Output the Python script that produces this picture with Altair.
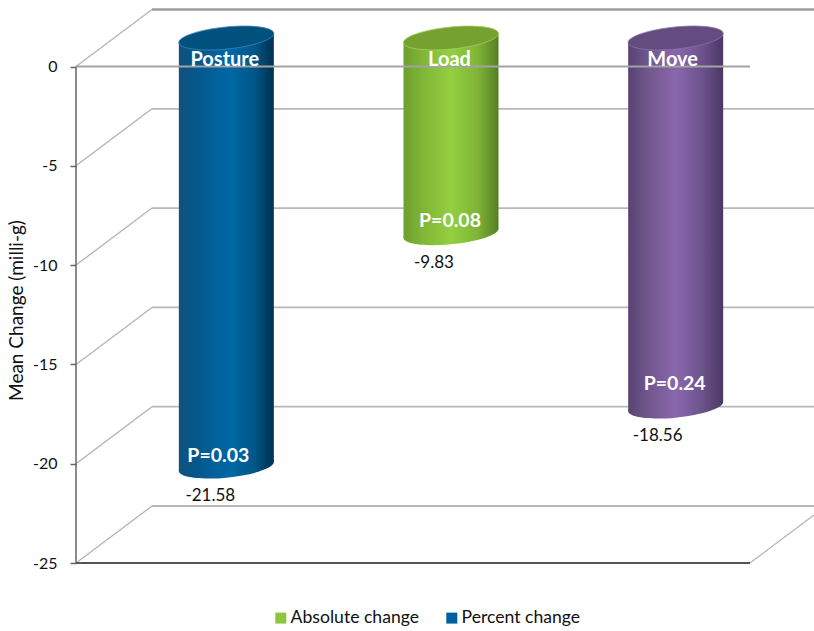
import altair as alt
import pandas as pd

# Measured results
movements = ["Posture", "Load", "Move"]
mean_change = [-21.58, -9.83, -18.56]
p_values = ["P=0.03", "P=0.08", "P=0.24"]
axis_ticks = [0, -5, -10, -15, -20, -25]
legend_entries = ["Absolute change", "Percent change"]
legend_colors = ["#8dc63f", "#005f9e"]

FONT = "Lato"
PX_PER_SLOT = 224.67
PX_PER_UNIT = 19.86
DEPTH_X = 76 / PX_PER_SLOT   # how far the back wall shifts right, in category slots
DEPTH_Y = 57 / PX_PER_UNIT   # how far the back wall shifts up, in axis units
HALF_W = 47.5 / PX_PER_SLOT  # cylinder half width
TILT = 4.5 / PX_PER_UNIT     # rise of an end cap from its centre to its right edge
CAP_SIZE = 95 ** 2           # symbol area giving a cap as wide as its cylinder

x_scale = alt.Scale(domain=[0, 738 / PX_PER_SLOT], nice=False, zero=False)
y_scale = alt.Scale(domain=[-25, 61.5 / PX_PER_UNIT], nice=False, zero=False)

# Every layer shares this one value axis
value_axis_def = alt.Axis(
    title="Mean Change (milli-g)",
    titleFont=FONT,
    titleFontSize=19,
    titleFontWeight="normal",
    titleColor="#111111",
    titleX=-50,
    titleY=305,
    titleAngle=-90,
    values=axis_ticks,
    labelExpr="'' + datum.value",
    labelFont=FONT,
    labelFontSize=16,
    labelColor="#111111",
    labelPadding=13,
    tickColor="#666666",
    tickSize=6,
    tickWidth=1.5,
    domain=False,
    grid=False,
)
x_enc = alt.X("x:Q", scale=x_scale, axis=None)
y_enc = alt.Y("y:Q", scale=y_scale, axis=value_axis_def)


def ellipse_path(k=0.233, s=-0.095):
    """Sheared ellipse spanning x in [-1, 1], as four cubic segments."""
    c = 0.5523
    pts = [(1, 0), (1, c), (c, 1), (0, 1), (-c, 1), (-1, c), (-1, 0),
           (-1, -c), (-c, -1), (0, -1), (c, -1), (1, -c), (1, 0)]
    mapped = [(u, k * v + s * u) for u, v in pts]
    text = [f"{u:.4f},{v:.4f}" for u, v in mapped]
    path = "M" + text[0]
    for i in range(1, len(text), 3):
        path += "C" + " ".join(text[i:i + 3])
    return path + "Z"


def side_gradient(stops):
    return alt.LinearGradient(
        gradient="linear", x1=0, x2=1, y1=0, y2=0,
        stops=[alt.GradientStop(offset=o, color=col) for o, col in stops],
    )


def rules(df, color, width):
    return alt.Chart(df).mark_rule(color=color, strokeWidth=width).encode(
        x=x_enc, x2="x2:Q", y=y_enc, y2="y2:Q"
    )


x_end = 738 / PX_PER_SLOT

# Back wall, left wall and floor of the box
back_lines = pd.DataFrame(
    [{"x": DEPTH_X, "x2": x_end, "y": t + DEPTH_Y, "y2": t + DEPTH_Y} for t in axis_ticks]
)
left_lines = pd.DataFrame(
    [{"x": 0, "x2": DEPTH_X, "y": t, "y2": t + DEPTH_Y} for t in axis_ticks]
)
floor_edge = pd.DataFrame(
    [{"x": 3, "x2": x_end, "y": -25, "y2": -25 + DEPTH_Y * (x_end - 3) / DEPTH_X}]
)
front_floor = pd.DataFrame([{"x": 0, "x2": 3, "y": -25, "y2": -25}])
value_axis = pd.DataFrame([{"x": 0, "x2": 0, "y": -25, "y2": 0}])
zero_line = pd.DataFrame([{"x": 0, "x2": 3, "y": 0, "y2": 0}])

layers = [
    rules(back_lines, "#b8b8b8", 1.8),
    rules(back_lines[back_lines.y == back_lines.y.max()], "#9a9a9a", 1.8),
    rules(left_lines, "#b4b4b4", 1.3),
    rules(floor_edge, "#b4b4b4", 1.3),
    rules(value_axis, "#666666", 1.5),
    rules(front_floor, "#555555", 2),
]

# Fill colours for each cylinder: shaded side and flat top cap
side_stops = [
    [(0, "#12517c"), (0.18, "#04578c"), (0.55, "#0068a6"), (0.8, "#005688"), (1, "#00304f")],
    [(0, "#6f9f2e"), (0.2, "#80b536"), (0.5, "#93d040"), (0.78, "#7fb437"), (1, "#557f24")],
    [(0, "#574372"), (0.2, "#6f568b"), (0.5, "#8a67ad"), (0.78, "#6c538c"), (1, "#4a3863")],
]
cap_colors = ["#01517f", "#74a12f", "#644c81"]
cap_outline = ["#3a86b5", "#a4cf5e", "#8a72a6"]

for i, value in enumerate(mean_change):
    cx = i + 0.5 + DEPTH_X / 2
    top = DEPTH_Y / 2
    bottom = value + DEPTH_Y / 2
    fill = side_gradient(side_stops[i])
    body = pd.DataFrame(
        {
            "x": [cx - HALF_W, cx + HALF_W],
            "y": [top - TILT, top + TILT],
            "y2": [bottom - TILT, bottom + TILT],
        }
    )
    layers.append(
        alt.Chart(body).mark_area(color=fill, interpolate="linear").encode(
            x=x_enc, y=y_enc, y2="y2:Q"
        )
    )
    layers.append(
        alt.Chart(pd.DataFrame({"x": [cx], "y": [bottom]})).mark_point(
            shape=ellipse_path(), size=CAP_SIZE, filled=True, fill=fill, opacity=1, strokeWidth=0
        ).encode(x=x_enc, y=y_enc)
    )
    layers.append(
        alt.Chart(pd.DataFrame({"x": [cx], "y": [top]})).mark_point(
            shape=ellipse_path(), size=CAP_SIZE, filled=True, fill=cap_colors[i], opacity=1,
            stroke=cap_outline[i], strokeWidth=0.8,
        ).encode(x=x_enc, y=y_enc)
    )

# The zero plane crosses in front of the cylinders
layers.append(rules(zero_line, "#a3a3a3", 2))

# Text on and below the cylinders, with a per-cylinder nudge in pixels
name_nudge = [(-1.5, 22), (-1.5, 22), (-3, 22)]
p_nudge = [(-8, -11), (-1, -12), (-1, -23)]
value_nudge = [(-16, 1), (-17, 1), (-18, 1)]


def label(text, x, y, dx, dy, color, size, weight):
    return alt.Chart(pd.DataFrame({"x": [x], "y": [y], "t": [text]})).mark_text(
        font=FONT, fontSize=size, fontWeight=weight, color=color, dx=dx, dy=dy,
        align="center", baseline="middle",
    ).encode(x=x_enc, y=y_enc, text="t:N")


for i, value in enumerate(mean_change):
    cx = i + 0.5 + DEPTH_X / 2
    top = DEPTH_Y / 2
    bottom = value + DEPTH_Y / 2
    layers.append(label(movements[i], cx, top, name_nudge[i][0], name_nudge[i][1], "#ffffff", 20, "bold"))
    layers.append(label(p_values[i], cx, bottom, p_nudge[i][0], p_nudge[i][1], "#ffffff", 19.5, "bold"))
    layers.append(label(f"{value:.2f}", cx, value, value_nudge[i][0], value_nudge[i][1], "#111111", 17, "normal"))

# Legend, fed by an invisible series
legend_df = pd.DataFrame({"x": [0.0, 0.0], "y": [0.0, 0.0], "series": legend_entries})
layers.append(
    alt.Chart(legend_df).mark_point(size=0, filled=True, shape="square").encode(
        x=x_enc,
        y=y_enc,
        color=alt.Color(
            "series:N",
            scale=alt.Scale(domain=legend_entries, range=legend_colors),
            legend=alt.Legend(
                title=None,
                orient="none",
                direction="horizontal",
                legendX=196,
                legendY=604,
                columns=2,
                symbolType="square",
                symbolSize=121,
                symbolOpacity=1,
                symbolStrokeWidth=0,
                labelFont=FONT,
                labelFontSize=17.6,
                labelColor="#111111",
                labelOffset=1,
                columnPadding=23,
                labelLimit=200,
            ),
        ),
    )
)

chart = (
    alt.layer(*layers)
    .properties(
        width=738,
        height=558,
        background="white",
        autosize=alt.AutoSizeParams(type="none"),
        padding={"left": 76, "top": 5, "right": 0, "bottom": 68},
    )
    .configure_view(stroke=None)
)

chart.save("out.html", embed_options={"renderer": "svg", "actions": False})
